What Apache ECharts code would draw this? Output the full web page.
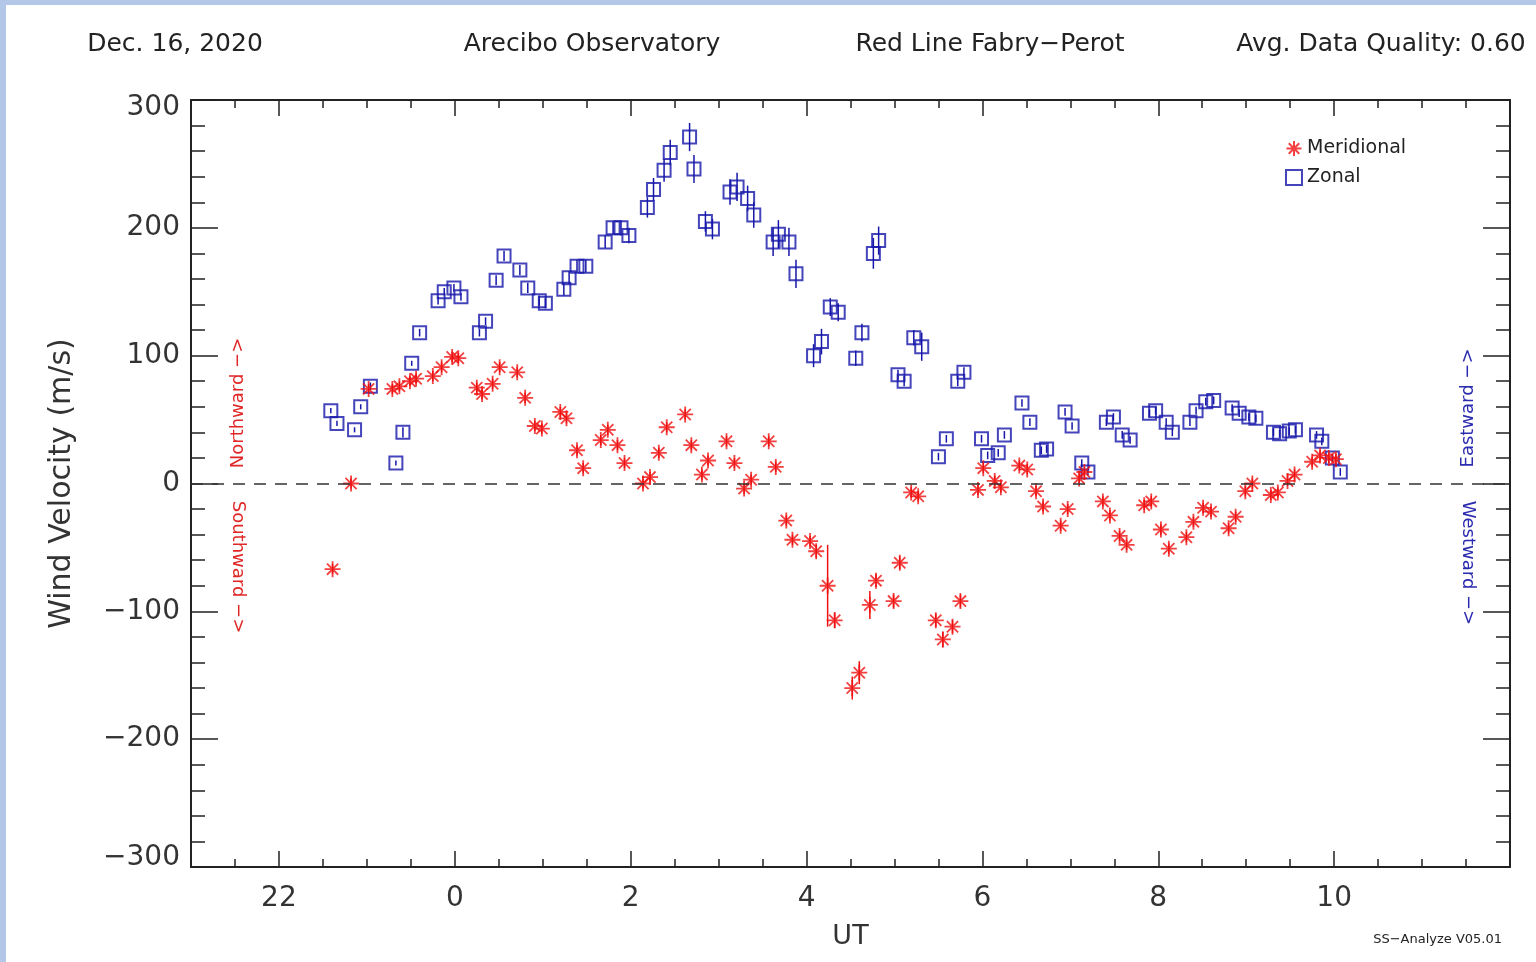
<!DOCTYPE html>
<html>
<head>
<meta charset="utf-8">
<script src="https://cdn.jsdelivr.net/npm/echarts@6/dist/echarts.min.js"></script>
<style>
  html, body { margin: 0; padding: 0; background: #fff; overflow: hidden; }
  #main { width: 1536px; height: 962px; }
</style>
</head>
<body>
<div id="main"></div>
<script>
// UT hours, negative = previous day (21 UT = -3)
let zonalUT = [
  -1.41,-1.34,-1.14,-1.07,-0.96,-0.67,-0.59,-0.49,-0.40,-0.19,
  -0.12,-0.01,0.07,0.28,0.35,0.47,0.56,0.74,0.83,0.96,
  1.03,1.24,1.30,1.39,1.49,1.71,1.80,1.89,1.98,2.19,
  2.26,2.38,2.45,2.67,2.72,2.85,2.93,3.13,3.21,3.33,
  3.40,3.62,3.68,3.80,3.88,4.08,4.17,4.27,4.36,4.56,
  4.63,4.76,4.82,5.04,5.11,5.22,5.31,5.50,5.59,5.72,
  5.79,5.99,6.06,6.18,6.25,6.45,6.54,6.67,6.73,6.94,
  7.02,7.13,7.20,7.41,7.49,7.59,7.68,7.90,7.97,8.09,
  8.16,8.36,8.43,8.54,8.63,8.84,8.92,9.03,9.11,9.31,
  9.38,9.49,9.56,9.80,9.86,9.98,10.07
];
let zonalVel = [
  57,47,42,60,76,16,40,94,118,143,
  150,153,146,118,127,159,178,167,153,143,
  141,152,161,170,170,189,200,200,194,216,
  230,245,259,271,246,205,199,228,232,223,
  210,189,195,189,164,100,111,138,134,98,
  118,180,190,85,80,114,107,21,35,80,
  87,35,22,24,38,63,48,26,27,56,
  45,16,9,48,52,38,34,55,57,48,
  40,48,57,64,65,59,55,52,51,40,
  39,41,42,38,33,20,9
];
let zonalErr = [
  2,2,2,2,3,2,4,2,3,3,
  3,3,3,3,3,4,4,4,4,4,
  4,5,5,5,5,5,5,6,6,8,
  9,9,10,11,11,8,8,10,11,10,
  10,11,11,11,11,9,10,7,7,6,
  7,12,11,4,4,6,11,3,3,4,
  4,3,3,3,3,3,3,3,3,3,
  3,3,3,3,3,3,3,3,3,3,
  3,3,3,3,3,3,3,3,3,3,
  3,3,3,3,3,3,3
];
let meridUT = [
  -1.39,-1.18,-0.98,-0.71,-0.63,-0.51,-0.44,-0.25,-0.15,-0.03,
  0.04,0.25,0.31,0.43,0.51,0.71,0.80,0.91,0.99,1.20,
  1.27,1.39,1.46,1.66,1.74,1.85,1.93,2.14,2.22,2.32,
  2.41,2.62,2.69,2.81,2.88,3.09,3.18,3.29,3.37,3.57,
  3.65,3.77,3.84,4.04,4.11,4.24,4.32,4.52,4.60,4.72,
  4.79,4.99,5.06,5.19,5.27,5.47,5.55,5.66,5.75,5.95,
  6.01,6.14,6.21,6.42,6.51,6.61,6.69,6.89,6.97,7.10,
  7.16,7.37,7.45,7.56,7.64,7.84,7.92,8.03,8.12,8.32,
  8.40,8.51,8.60,8.80,8.88,8.99,9.07,9.28,9.36,9.47,
  9.55,9.75,9.84,9.94,10.02
];
let meridVel = [
  -67,0,74,74,76,80,82,84,91,99,
  98,75,70,78,91,87,67,45,43,56,
  51,26,12,34,42,30,16,0,5,24,
  44,54,30,7,18,33,16,-4,3,33,
  13,-29,-44,-45,-53,-80,-107,-160,-148,-95,
  -76,-92,-62,-7,-10,-107,-122,-112,-92,-5,
  12,2,-3,14,11,-6,-18,-33,-20,4,
  9,-14,-25,-41,-48,-17,-14,-36,-51,-42,
  -30,-19,-22,-35,-26,-6,0,-9,-7,2,
  7,17,22,20,19
];
let meridErr = [
  4,4,4,4,4,4,4,4,4,4,
  4,4,4,4,4,4,4,4,4,4,
  4,4,4,4,4,4,4,4,4,4,
  4,4,4,4,4,4,4,4,4,4,
  4,4,4,4,5,32,6,9,9,11,
  5,5,5,4,4,5,6,5,5,4,
  4,4,4,4,4,4,4,4,4,4,
  4,4,4,4,4,4,4,4,4,4,
  4,4,4,4,4,4,4,4,4,4,
  4,4,4,4,4
];
let xMajorTicks = [-2,0,2,4,6,8,10];
let xMinorTicks = [-2.5,-1.5,-1,-0.5,0.5,1,1.5,2.5,3,3.5,4.5,5,5.5,6.5,7,7.5,8.5,9,9.5,10.5,11,11.5];

const RED = '#f01010';
const BLUE = '#1616aa';
const FONT = '"DejaVu Sans", sans-serif';
const ASTER = 'path://M0,-10L0,10M-10,0L10,0M-7,-7L7,7M-7,7L7,-7';

let zonalData = zonalUT.map((t, i) => [t, zonalVel[i], zonalErr[i]]);
let meridData = meridUT.map((t, i) => [t, meridVel[i], meridErr[i]]);

function errBar(color) {
  return function (params, api) {
    let x = api.value(0), v = api.value(1), e = api.value(2);
    let p1 = api.coord([x, v - e]);
    let p2 = api.coord([x, v + e]);
    return {
      type: 'line',
      shape: { x1: p1[0], y1: p1[1], x2: p2[0], y2: p2[1] },
      style: { stroke: color, lineWidth: 1.5 }
    };
  };
}

let chart = echarts.init(document.getElementById('main'));

let gridBox = { left: 191, right: 26, top: 100, bottom: 95, containLabel: false, outerBoundsMode: 'none' };
let frameLine = { show: true, onZero: false, lineStyle: { color: '#222', width: 2 } };

// grid 0 holds the major x ticks, grid 1 (same box) the minor x ticks
function xAx(grid, pos, ticks, len, extra) {
  return Object.assign({
    type: 'value', min: -3, max: 12, gridIndex: grid, position: pos,
    splitLine: { show: false },
    axisLine: { show: false, onZero: false },
    axisLabel: { show: false },
    axisTick: { show: true, inside: true, length: len, customValues: ticks,
      lineStyle: { color: '#222', width: 1.5 } }
  }, extra || {});
}
function yAx(grid, pos, extra) {
  return Object.assign({
    type: 'value', min: -300, max: 300, interval: 100, gridIndex: grid, position: pos,
    splitLine: { show: false },
    axisLine: frameLine,
    axisTick: { show: true, inside: true, length: 27, lineStyle: { color: '#222', width: 1.5 } },
    minorTick: { show: true, splitNumber: 5, length: 14, lineStyle: { color: '#222', width: 1.5 } },
    axisLabel: { show: false }
  }, extra || {});
}

let option = {
  backgroundColor: '#fff',
  animation: false,
  grid: [Object.assign({}, gridBox), Object.assign({}, gridBox)],
  legend: {
    orient: 'vertical', left: 1280, top: 134, itemGap: 10,
    itemWidth: 16, itemHeight: 15,
    data: ['Meridional', 'Zonal'],
    textStyle: { fontFamily: FONT, fontSize: 19, color: '#222' }
  },
  xAxis: [
    xAx(0, 'bottom', xMajorTicks, 16, {
      axisLine: frameLine,
      axisLabel: {
        show: true, customValues: xMajorTicks, margin: 18,
        fontFamily: FONT, fontSize: 28, color: '#333',
        formatter: v => String(v < 0 ? v + 24 : v)
      },
      name: 'UT', nameLocation: 'middle', nameGap: 56,
      nameTextStyle: { fontFamily: FONT, fontSize: 27, color: '#333' }
    }),
    xAx(0, 'top', xMajorTicks, 16, { axisLine: frameLine }),
    xAx(1, 'bottom', xMinorTicks, 8),
    xAx(1, 'top', xMinorTicks, 8)
  ],
  yAxis: [
    yAx(0, 'left', {
      axisLabel: {
        margin: 11, fontFamily: FONT, fontSize: 28, color: '#333',
        formatter: v => {
          let s = String(v).replace('-', '\u2212');
          if (v === 300) return '{top|' + s + '}';
          if (v === -300) return '{bot|' + s + '}';
          return s;
        },
        rich: {
          top: { fontFamily: FONT, fontSize: 28, color: '#333', padding: [16, 0, 0, 0] },
          bot: { fontFamily: FONT, fontSize: 28, color: '#333', padding: [0, 0, 18, 0] }
        }
      },
      name: 'Wind Velocity (m/s)', nameLocation: 'middle', nameGap: 114, nameRotate: 90,
      nameTextStyle: { fontFamily: FONT, fontSize: 30, color: '#333' }
    }),
    yAx(0, 'right'),
    { type: 'value', min: -300, max: 300, gridIndex: 1, show: false }
  ],
  series: [
    {
      name: 'ZonalErr', type: 'custom', xAxisIndex: 0, yAxisIndex: 0,
      data: zonalData, renderItem: errBar(BLUE), silent: true,
      encode: { x: 0, y: 1 }
    },
    {
      name: 'MeridErr', type: 'custom', xAxisIndex: 0, yAxisIndex: 0,
      data: meridData, renderItem: errBar(RED), silent: true,
      encode: { x: 0, y: 1 }
    },
    {
      name: 'Zonal', type: 'scatter', xAxisIndex: 0, yAxisIndex: 0,
      data: zonalData, symbol: 'rect', symbolSize: 13,
      itemStyle: { color: 'rgba(0,0,0,0)', borderColor: BLUE, borderWidth: 2 },
      markLine: {
        silent: true, symbol: ['none', 'none'], label: { show: false },
        lineStyle: { color: '#333', type: [12, 9], width: 1.5 },
        data: [{ yAxis: 0 }]
      }
    },
    {
      name: 'Meridional', type: 'scatter', xAxisIndex: 0, yAxisIndex: 0,
      data: meridData, symbol: ASTER, symbolSize: 16,
      itemStyle: { color: 'rgba(0,0,0,0)', borderColor: RED, borderWidth: 1.8 }
    }
  ],
  graphic: [
    { type: 'rect', left: 0, top: 0, shape: { width: 1536, height: 5 }, style: { fill: '#b3c7e8' } },
    { type: 'rect', left: 0, top: 0, shape: { width: 6, height: 962 }, style: { fill: '#b3c7e8' } },
    { type: 'text', x: 175, y: 44, style: { text: 'Dec. 16, 2020', font: '25px ' + FONT, fill: '#222', align: 'center', verticalAlign: 'middle' } },
    { type: 'text', x: 592, y: 44, style: { text: 'Arecibo Observatory', font: '25px ' + FONT, fill: '#222', align: 'center', verticalAlign: 'middle' } },
    { type: 'text', x: 990, y: 44, style: { text: 'Red Line Fabry\u2212Perot', font: '25px ' + FONT, fill: '#222', align: 'center', verticalAlign: 'middle' } },
    { type: 'text', x: 1381, y: 44, style: { text: 'Avg. Data Quality: 0.60', font: '25px ' + FONT, fill: '#222', align: 'center', verticalAlign: 'middle' } },
    { type: 'text', x: 238, y: 403, rotation: Math.PI / 2, style: { text: 'Northward \u2212>', font: '18px ' + FONT, fill: '#e02828', align: 'center', verticalAlign: 'middle' } },
    { type: 'text', x: 238, y: 567, rotation: -Math.PI / 2, style: { text: 'Southward \u2212>', font: '18px ' + FONT, fill: '#e02828', align: 'center', verticalAlign: 'middle' } },
    { type: 'text', x: 1468, y: 408, rotation: Math.PI / 2, style: { text: 'Eastward \u2212>', font: '18px ' + FONT, fill: '#2b2bb0', align: 'center', verticalAlign: 'middle' } },
    { type: 'text', x: 1468, y: 563, rotation: -Math.PI / 2, style: { text: 'Westward \u2212>', font: '18px ' + FONT, fill: '#2b2bb0', align: 'center', verticalAlign: 'middle' } },
    { type: 'text', x: 1502, y: 940, style: { text: 'SS\u2212Analyze V05.01', font: '13px ' + FONT, fill: '#222', align: 'right', verticalAlign: 'middle' } }
  ]
};
chart.setOption(option);
</script>
</body>
</html>
